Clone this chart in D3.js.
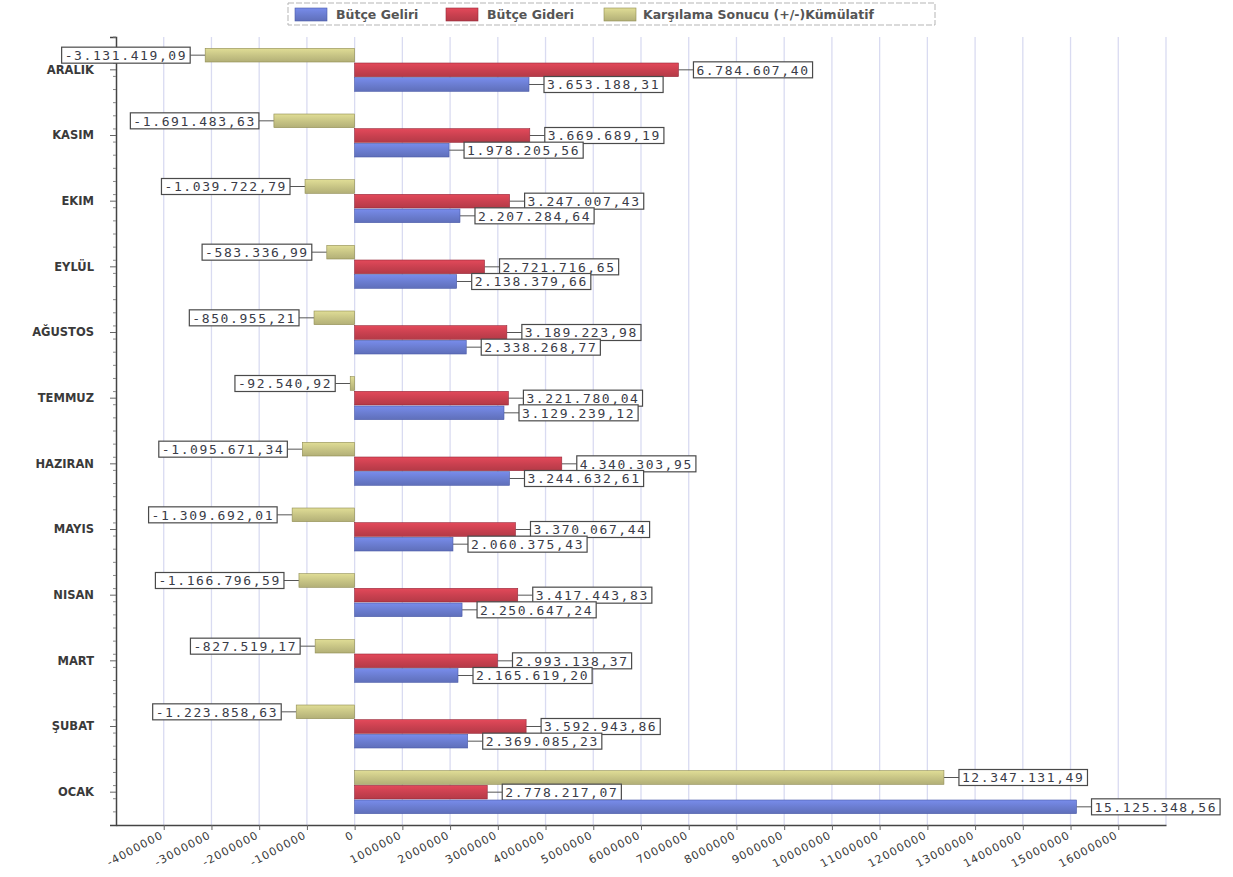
<!DOCTYPE html>
<html>
<head>
<meta charset="utf-8">
<script src="https://cdn.jsdelivr.net/npm/d3@7"></script>
<style>
  body { margin: 0; background: #fff; }
  #viz svg { display: block; }
</style>
</head>
<body>
<div id="viz"></div>
<script>
// months, top to bottom as in the chart
var months = ["ARALIK", "KASIM", "EKIM", "EYLÜL", "AĞUSTOS", "TEMMUZ", "HAZIRAN", "MAYIS", "NISAN", "MART", "ŞUBAT", "OCAK"];

var seriesNames = ["Bütçe Geliri", "Bütçe Gideri", "Karşılama Sonucu (+/-)Kümülatif"];

var gelir = [3653188.31, 1978205.56, 2207284.64, 2138379.66, 2338268.77, 3129239.12, 3244632.61, 2060375.43, 2250647.24, 2165619.20, 2369085.23, 15125348.56];
var gider = [6784607.40, 3669689.19, 3247007.43, 2721716.65, 3189223.98, 3221780.04, 4340303.95, 3370067.44, 3417443.83, 2993138.37, 3592943.86, 2778217.07];
var karsilama = [-3131419.09, -1691483.63, -1039722.79, -583336.99, -850955.21, -92540.92, -1095671.34, -1309692.01, -1166796.59, -827519.17, -1223858.63, 12347131.49];

var xTicks = [-4000000, -3000000, -2000000, -1000000, 0, 1000000, 2000000, 3000000, 4000000, 5000000, 6000000, 7000000, 8000000, 9000000, 10000000, 11000000, 12000000, 13000000, 14000000, 15000000, 16000000];

var W = 1233, H = 877;
var margin = { top: 37, right: 67, bottom: 52, left: 116 };
var width = W - margin.left - margin.right,
    height = H - margin.top - margin.bottom;

var trLocale = d3.formatLocale({ decimal: ",", thousands: ".", grouping: [3], currency: ["", ""], minus: "-" });
var fmt = trLocale.format(",.2f");
var tickFmt = trLocale.format("d");

var rows = months.map(function (m, i) {
    return { month: m, values: [karsilama[i], gider[i], gelir[i]] };
});
// order of bars inside a group: karşılama on top, gider, gelir
var barKeys = [2, 1, 0];
var colors = ["#6a7ccf", "#c8404f", "#c6c384"];
var dark = ["#4a5aa8", "#96283a", "#8f8c52"];
var font = '"DejaVu Sans", Verdana, sans-serif';

var svg = d3.select('#viz').append('svg')
    .attr('width', W)
    .attr('height', H);

var defs = svg.append('defs');
colors.forEach(function (c, i) {
    var g = defs.append('linearGradient')
        .attr('id', 'grad' + i)
        .attr('x1', 0).attr('y1', 0).attr('x2', 0).attr('y2', 1);
    g.append('stop').attr('offset', '0%').attr('stop-color', d3.color(c).brighter(0.35));
    g.append('stop').attr('offset', '55%').attr('stop-color', c);
    g.append('stop').attr('offset', '100%').attr('stop-color', d3.color(c).darker(0.3));
});

var chart = svg.append('g')
    .attr('transform', 'translate(' + margin.left + ',' + margin.top + ')');

var x = d3.scaleLinear()
    .domain([-5000000, 17000000])
    .range([0, width]);

var y0 = d3.scaleBand()
    .domain(months)
    .range([0, height])
    .paddingInner(0.33)
    .paddingOuter(0.165);

var y1 = d3.scaleBand()
    .domain(barKeys)
    .range([0, y0.bandwidth()]);

// grid
chart.append('g')
    .selectAll('line')
    .data(d3.range(-4000000, 17000001, 1000000))
    .enter().append('line')
    .attr('x1', function (d) { return x(d); })
    .attr('x2', function (d) { return x(d); })
    .attr('y1', 0)
    .attr('y2', height)
    .attr('stroke', '#d9dbf1')
    .attr('stroke-width', 1.3);

// y axis
var yAxis = chart.append('g')
    .call(d3.axisLeft(y0).tickSize(6).tickPadding(16));
yAxis.select('.domain').attr('stroke', '#444').attr('stroke-width', 1.5);
yAxis.selectAll('.tick line').attr('stroke', '#666');
yAxis.selectAll('text')
    .style('font-family', font)
    .style('font-size', '11.5px')
    .style('font-weight', 'bold')
    .attr('fill', '#3a3a3a');
// small marks on the y axis
chart.append('g')
    .selectAll('line')
    .data(d3.range(0, height, height / 60))
    .enter().append('line')
    .attr('x1', -3).attr('x2', 0)
    .attr('y1', function (d) { return d; })
    .attr('y2', function (d) { return d; })
    .attr('stroke', '#888');

// x axis
var xAxis = chart.append('g')
    .attr('transform', 'translate(0,' + height + ')')
    .call(d3.axisBottom(x).tickValues(xTicks).tickFormat(tickFmt).tickSize(5).tickSizeOuter(0));
xAxis.select('.domain').attr('stroke', '#444').attr('stroke-width', 1.5);
xAxis.selectAll('.tick line').attr('stroke', '#666');
xAxis.selectAll('text')
    .style('font-family', font)
    .style('font-size', '11px')
    .style('letter-spacing', '1.1px')
    .attr('fill', '#3a3a3a')
    .attr('text-anchor', 'end')
    .attr('y', 0)
    .attr('dy', '0.35em')
    .attr('transform', 'translate(-2,9) rotate(-28)');

// bars
var groups = chart.selectAll('.grp')
    .data(rows)
    .enter().append('g')
    .attr('class', 'grp')
    .attr('transform', function (d) { return 'translate(0,' + y0(d.month) + ')'; });

var bars = groups.selectAll('.bar')
    .data(function (d) {
        return barKeys.map(function (k, j) { return { key: k, value: d.values[j] }; });
    })
    .enter().append('g')
    .attr('class', 'bar');

bars.append('rect')
    .attr('x', function (d) { return x(Math.min(0, d.value)); })
    .attr('y', function (d) { return y1(d.key) + 0.5; })
    .attr('width', function (d) { return Math.abs(x(d.value) - x(0)); })
    .attr('height', y1.bandwidth() - 1)
    .attr('fill', function (d) { return 'url(#grad' + d.key + ')'; })
    .attr('stroke', function (d) { return dark[d.key]; })
    .attr('stroke-width', 0.6);

// data labels
var boxH = 16, gap = 15;
bars.each(function (d) {
    var g = d3.select(this);
    var cy = y1(d.key) + y1.bandwidth() / 2;
    var neg = d.value < 0;
    var end = x(d.value);
    var txt = g.append('text')
        .attr('y', cy)
        .attr('dy', '0.36em')
        .style('font-family', '"DejaVu Sans Mono", monospace')
        .style('font-size', '13px')
        .style('letter-spacing', '1.6px')
        .attr('fill', '#3a3c48')
        .text(fmt(d.value));
    var tw = txt.node().getComputedTextLength();
    var bw = tw + 6;
    var bx = neg ? end - gap - bw : end + gap;
    txt.attr('x', bx + 3);
    g.insert('rect', 'text')
        .attr('x', bx)
        .attr('y', cy - boxH / 2)
        .attr('width', bw)
        .attr('height', boxH)
        .attr('fill', '#fff')
        .attr('stroke', '#4a4a4a')
        .attr('stroke-width', 1.2);
    g.insert('line', 'rect')
        .attr('x1', end)
        .attr('x2', neg ? bx + bw : bx)
        .attr('y1', cy)
        .attr('y2', cy)
        .attr('stroke', '#555')
        .attr('stroke-width', 1);
});

// legend
var legend = svg.append('g').attr('transform', 'translate(288,3)');
legend.append('rect')
    .attr('width', 647).attr('height', 22)
    .attr('fill', '#fff')
    .attr('stroke', '#b5b5b5')
    .attr('stroke-dasharray', '6,2');
var legX = [7, 158, 316];
seriesNames.forEach(function (name, i) {
    var item = legend.append('g').attr('transform', 'translate(' + legX[i] + ',0)');
    item.append('rect')
        .attr('x', 0).attr('y', 5)
        .attr('width', 32).attr('height', 13)
        .attr('fill', 'url(#grad' + i + ')')
        .attr('stroke', dark[i]).attr('stroke-width', 0.6);
    item.append('text')
        .attr('x', i === 2 ? 39 : 41).attr('y', 12)
        .attr('dy', '0.35em')
        .style('font-family', font)
        .style('font-size', '12.5px')
        .style('font-weight', 'bold')
        .attr('fill', '#555')
        .text(name);
});
</script>
</body>
</html>
